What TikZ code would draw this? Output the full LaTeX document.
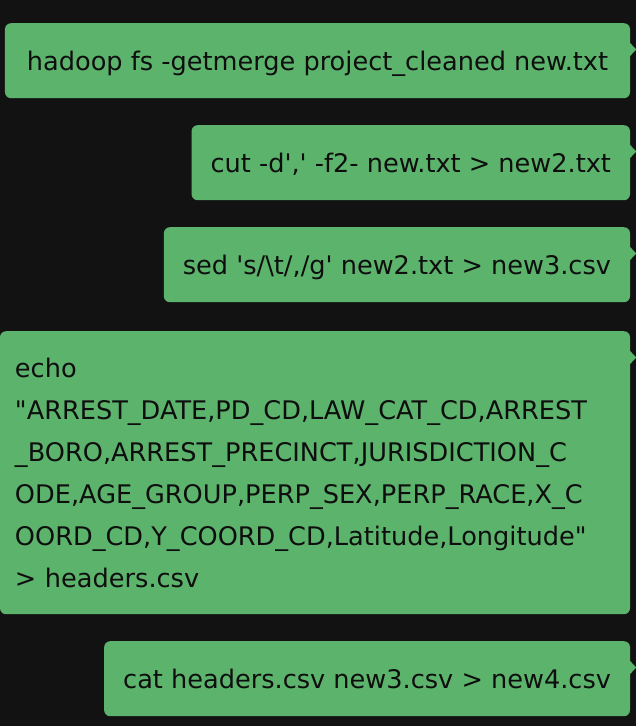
\documentclass[tikz,border=0pt]{standalone}
\usepackage{fontspec}
\usepackage{tikz}
\newfontfamily\bubbleFont{DejaVu Sans}
\definecolor{backgroundColor}{RGB}{18,18,18}
\definecolor{bubbleColor}{RGB}{92,180,108}
\definecolor{bubbleTextColor}{RGB}{14,14,14}
\tikzstyle{screen} = [x = 1pt, y = -1pt]
\tikzstyle{bubbleStyle} = [fill=bubbleColor, rounded corners = 6pt, anchor = north east, minimum height = 75pt, inner xsep = 19pt, inner ysep = 0pt, text = bubbleTextColor, font = {\bubbleFont\fontsize{25.6pt}{42pt}\selectfont}]
\tikzstyle{singleLine} = [bubbleStyle, text height = 20pt, text depth = 0pt]
\tikzstyle{tailStyle} = [fill=bubbleColor]
\newcommand{\bubbleRight}{630}
\newcommand{\bubbleTail}[1]{\fill [tailStyle] ([xshift=-1pt, yshift=-19pt]#1.north east) -- +(7, 7.5) -- +(0, 15) -- cycle;}

\begin{document}
\begin{tikzpicture}[screen]
        \fill [backgroundColor] (0, 0) rectangle (636, 726);

        \node [singleLine, minimum width = 625pt] (getmerge) at (\bubbleRight, 23) {hadoop fs -getmerge project\_cleaned new.txt};
        \bubbleTail{getmerge}

        \node [singleLine, minimum width = 437pt] (cutColumn) at (\bubbleRight, 125) {cut -d',' -f2- new.txt > new2.txt};
        \bubbleTail{cutColumn}

        \node [singleLine, minimum width = 461pt] (sedTabs) at (\bubbleRight, 227) {sed 's/\textbackslash t/,/g' new2.txt > new3.csv};
        \bubbleTail{sedTabs}

        \node [bubbleStyle, minimum height = 283pt, text width = 600pt, align = left, inner xsep = 15pt] (echoHeaders) at (\bubbleRight, 331) {echo\\
          "ARREST\_DATE,PD\_CD,LAW\_CAT\_CD,ARREST\\
          \_BORO,ARREST\_PRECINCT,JURISDICTION\_C\\
          ODE,AGE\_GROUP,PERP\_SEX,PERP\_RACE,X\_C\\
          OORD\_CD,Y\_COORD\_CD,Latitude,Longitude"\\
          > headers.csv};
        \bubbleTail{echoHeaders}

        \node [singleLine, minimum width = 522pt] (catFiles) at (\bubbleRight, 641) {cat headers.csv new3.csv > new4.csv};
        \bubbleTail{catFiles}
      \end{tikzpicture}
\end{document}
